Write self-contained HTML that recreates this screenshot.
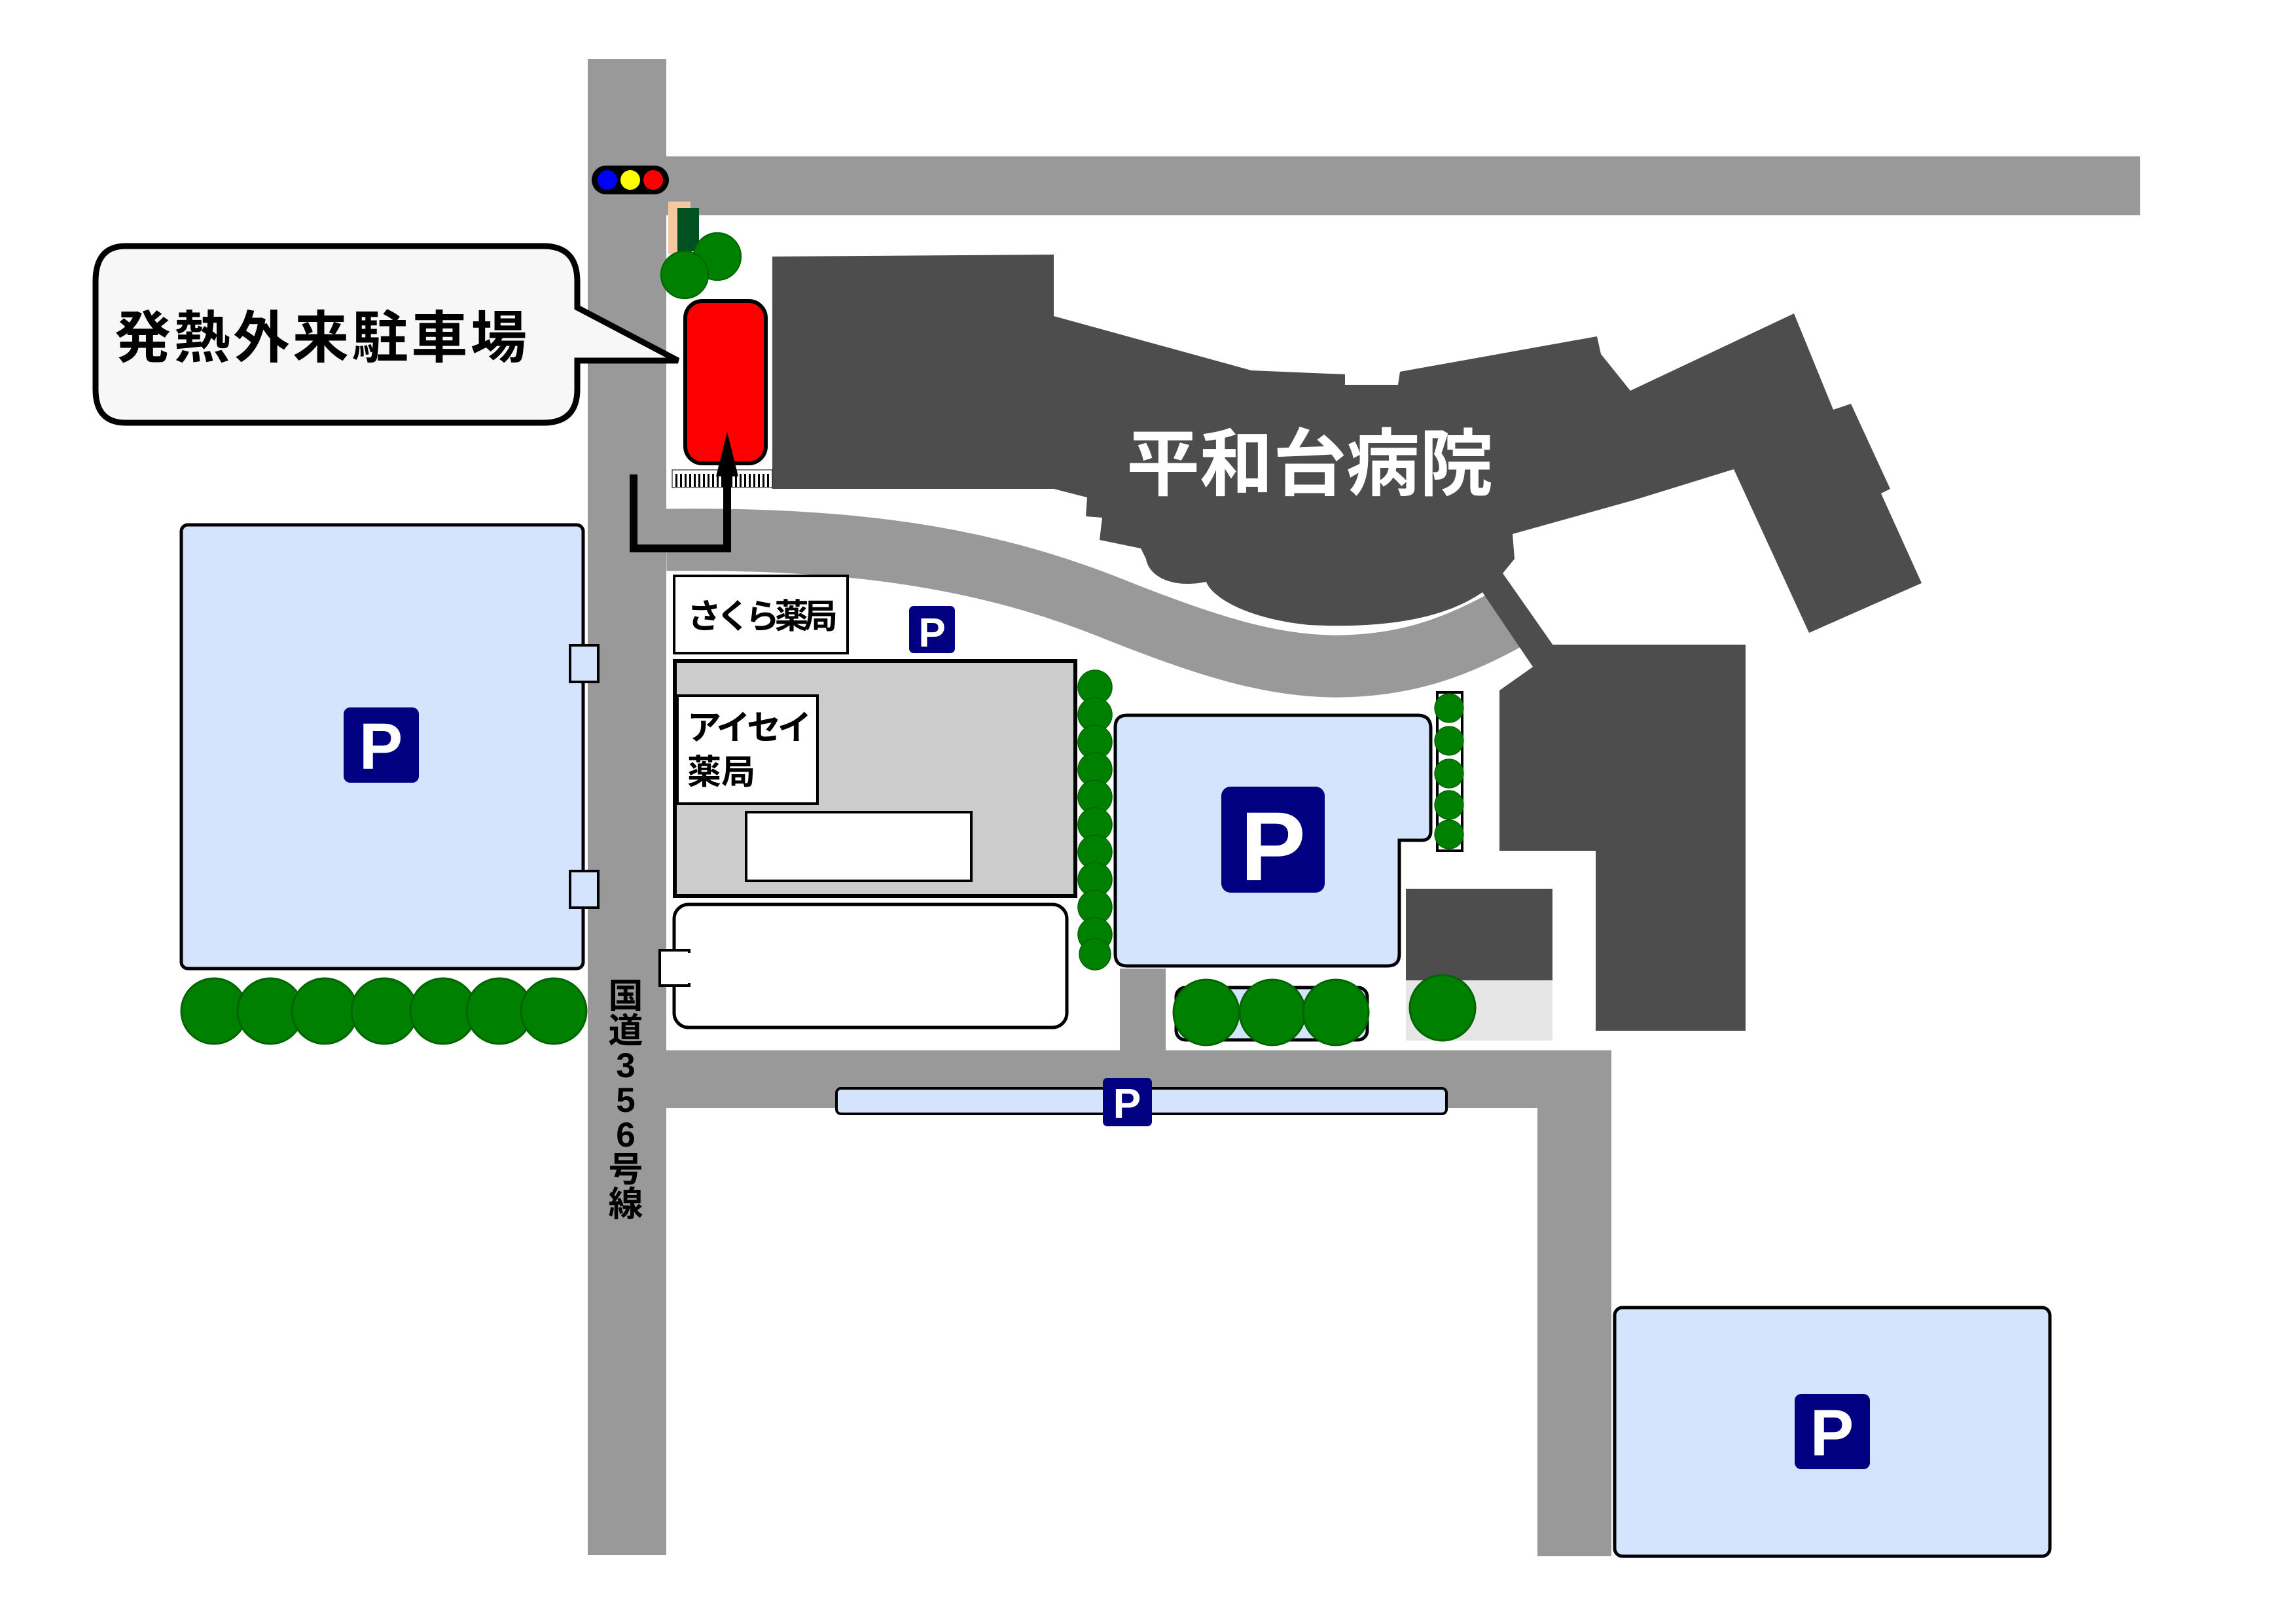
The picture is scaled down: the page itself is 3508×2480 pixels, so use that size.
<!DOCTYPE html>
<html><head><meta charset="utf-8"><style>
html,body{margin:0;padding:0;background:#fff}
svg{display:block}
text{font-family:"Liberation Sans","Noto Sans CJK JP",sans-serif}
</style></head><body>
<svg width="3508" height="2480" viewBox="0 0 3508 2480" xmlns="http://www.w3.org/2000/svg">
<defs>
<g id="tree"><circle r="1" fill="#008000" stroke="#006400" stroke-width="0.06"/></g>
</defs>
<rect width="3508" height="2480" fill="#fff"/>
<!-- roads -->
<g fill="#999">
<rect x="898" y="90" width="120" height="2286"/>
<rect x="1018" y="239" width="2252" height="90"/>
<rect x="1018" y="1605" width="1444" height="88"/>
<rect x="2349" y="1605" width="113" height="773"/>
<rect x="1711" y="1480" width="70" height="130"/>
</g>
<path d="M1018,825 C1300,822 1500,850 1700,930 C1850,990 1950,1020 2050,1018 C2150,1016 2230,990 2330,930" fill="none" stroke="#999" stroke-width="95"/>
<!-- hospital building -->
<path fill="#4d4d4d" d="M1180,392 L1610,389 L1610,483 L1912,566 L2055,572 L2055,588 L2136,588 L2139,568 L2440,514 L2446,541 L2491,597 L2741,479 L2801,626 L2828,617 L2888,747 L2874,754 L2936,891 L2764,967 L2649,717 L2497,764 L2311,816 L2314,854 L2296,876 L2373,986 L2342,1019 L2265,905 C2200,950 2100,960 2000,955 C1900,945 1850,910 1843,889 C1790,900 1755,880 1751,854 L1743,838 L1680,825 L1684,791 L1659,789 L1661,760 L1610,747 L1180,747 Z"/>
<path fill="#4d4d4d" d="M2373,985 L2667,985 L2667,1575 L2438,1575 L2438,1300 L2291,1300 L2291,1055 L2342,1019 Z"/>
<rect x="2148" y="1358" width="224" height="140" fill="#4d4d4d"/>
<rect x="2148" y="1498" width="224" height="92" fill="#e6e6e6"/>
<text x="2001" y="748" font-size="112" font-weight="bold" fill="#fff" text-anchor="middle">平和台病院</text>
<!-- traffic light -->
<rect x="904" y="253" width="118" height="44" rx="22" fill="#000"/>
<circle cx="928" cy="275" r="15" fill="#00f"/>
<circle cx="963" cy="275" r="15" fill="#ff0"/>
<circle cx="998" cy="275" r="15" fill="#f00"/>
<rect x="1021" y="308" width="34" height="80" fill="#f4c8a0"/>
<rect x="1035" y="318" width="33" height="66" fill="#005020"/>
<use href="#tree" transform="translate(1096,392) scale(36)"/>
<use href="#tree" transform="translate(1046,420) scale(36)"/>
<!-- red car -->
<rect x="1047" y="460" width="123" height="248" rx="26" fill="#f00" stroke="#000" stroke-width="6"/>
<rect x="1027" y="718" width="153" height="27" fill="#fff" stroke="#000" stroke-width="1"/>
<path d="M1032,734 h144" stroke="#000" stroke-width="20" stroke-dasharray="3,4"/>
<!-- arrow -->
<path d="M968,725 V838 H1111 V700" fill="none" stroke="#000" stroke-width="12"/>
<path d="M1111,660 L1094,728 L1128,728 Z" fill="#000"/>
<!-- callout -->
<path d="M192,376 H830 Q882,376 882,430 V470 L1036,551 H882 V595 Q882,646 830,646 H192 Q146,646 146,595 V430 Q146,376 192,376 Z" fill="#f7f7f7" stroke="#000" stroke-width="9"/>
<text x="175" y="546" font-size="86" font-weight="bold" fill="#000" textLength="630">発熱外来駐車場</text>
<!-- left parking -->
<rect x="277" y="802" width="614" height="678" rx="10" fill="#d4e4fc" stroke="#000" stroke-width="5"/>
<rect x="871" y="986" width="43" height="56" fill="#d4e4fc" stroke="#000" stroke-width="4"/>
<rect x="871" y="1331" width="43" height="56" fill="#d4e4fc" stroke="#000" stroke-width="4"/>
<rect x="525" y="1081" width="115" height="115" rx="10" fill="#000080"/>
<text x="582" y="1175" font-size="100" font-weight="bold" fill="#fff" text-anchor="middle">P</text>
<g>
<use href="#tree" transform="translate(327,1545) scale(50)"/>
<use href="#tree" transform="translate(413,1545) scale(50)"/>
<use href="#tree" transform="translate(496,1545) scale(50)"/>
<use href="#tree" transform="translate(587,1545) scale(50)"/>
<use href="#tree" transform="translate(677,1545) scale(50)"/>
<use href="#tree" transform="translate(763,1545) scale(50)"/>
<use href="#tree" transform="translate(846,1545) scale(50)"/>
</g>
<!-- sakura -->
<rect x="1030" y="880" width="265" height="118" fill="#fff" stroke="#000" stroke-width="4"/>
<text x="1050" y="960" font-size="52" font-weight="bold" fill="#000" textLength="230">さくら薬局</text>
<rect x="1389" y="926" width="70" height="72" rx="7" fill="#000080"/>
<text x="1424" y="988" font-size="62" font-weight="bold" fill="#fff" text-anchor="middle">P</text>
<!-- aisei -->
<rect x="1031" y="1010" width="612" height="359" fill="#ccc" stroke="#000" stroke-width="6"/>
<rect x="1035" y="1063" width="214" height="165" fill="#fff" stroke="#000" stroke-width="4"/>
<text x="1050" y="1130" font-size="52" font-weight="bold" fill="#000" textLength="190">アイセイ</text>
<text x="1050" y="1198" font-size="52" font-weight="bold" fill="#000">薬局</text>
<rect x="1140" y="1241" width="344" height="105" fill="#fff" stroke="#000" stroke-width="4"/>
<rect x="1030" y="1382" width="600" height="188" rx="22" fill="#fff" stroke="#000" stroke-width="5"/>
<rect x="1008" y="1452" width="45" height="54" fill="#fff" stroke="#000" stroke-width="4"/>
<rect x="1028" y="1456" width="30" height="46" fill="#fff"/>
<!-- tree column -->
<g>
<use href="#tree" transform="translate(1673,1050) scale(26)"/>
<use href="#tree" transform="translate(1673,1092) scale(26)"/>
<use href="#tree" transform="translate(1673,1134) scale(26)"/>
<use href="#tree" transform="translate(1673,1176) scale(26)"/>
<use href="#tree" transform="translate(1673,1218) scale(26)"/>
<use href="#tree" transform="translate(1673,1260) scale(26)"/>
<use href="#tree" transform="translate(1673,1302) scale(26)"/>
<use href="#tree" transform="translate(1673,1344) scale(26)"/>
<use href="#tree" transform="translate(1673,1386) scale(26)"/>
<use href="#tree" transform="translate(1673,1428) scale(26)"/>
<use href="#tree" transform="translate(1673,1458) scale(24)"/>
</g>
<!-- middle parking -->
<path d="M1722,1093 H2166 Q2186,1093 2186,1113 V1270 Q2186,1284 2172,1284 H2138 V1458 Q2138,1476 2120,1476 H1722 Q1704,1476 1704,1458 V1111 Q1704,1093 1722,1093 Z" fill="#d4e4fc" stroke="#000" stroke-width="5"/>
<rect x="1866" y="1202" width="158" height="162" rx="14" fill="#000080"/>
<text x="1945" y="1345" font-size="150" font-weight="bold" fill="#fff" text-anchor="middle">P</text>
<rect x="2196" y="1058" width="38" height="242" fill="#fff" stroke="#000" stroke-width="4"/>
<g>
<use href="#tree" transform="translate(2214,1082) scale(22)"/>
<use href="#tree" transform="translate(2214,1132) scale(22)"/>
<use href="#tree" transform="translate(2214,1182) scale(22)"/>
<use href="#tree" transform="translate(2214,1230) scale(22)"/>
<use href="#tree" transform="translate(2214,1275) scale(22)"/>
</g>
<rect x="1797" y="1509" width="292" height="80" rx="14" fill="#d4e4fc" stroke="#000" stroke-width="5"/>
<use href="#tree" transform="translate(1843,1547) scale(50)"/>
<use href="#tree" transform="translate(1944,1547) scale(50)"/>
<use href="#tree" transform="translate(2041,1547) scale(50)"/>
<use href="#tree" transform="translate(2204,1540) scale(50)"/>
<!-- bottom strip -->
<rect x="1278" y="1663" width="932" height="39" rx="7" fill="#d4e4fc" stroke="#000" stroke-width="4"/>
<rect x="1685" y="1647" width="75" height="74" rx="7" fill="#000080"/>
<text x="1722" y="1708" font-size="64" font-weight="bold" fill="#fff" text-anchor="middle">P</text>
<!-- bottom right parking -->
<rect x="2467" y="1998" width="665" height="380" rx="12" fill="#d4e4fc" stroke="#000" stroke-width="5"/>
<rect x="2742" y="2130" width="115" height="115" rx="10" fill="#000080"/>
<text x="2799" y="2224" font-size="100" font-weight="bold" fill="#fff" text-anchor="middle">P</text>
<!-- road name -->
<g font-size="53" font-weight="bold" fill="#000" text-anchor="middle">
<text x="956" y="1540">国</text>
<text x="956" y="1593">道</text>
<text x="956" y="1646">3</text>
<text x="956" y="1699">5</text>
<text x="956" y="1752">6</text>
<text x="956" y="1805">号</text>
<text x="956" y="1858">線</text>
</g>
</svg>
</body></html>
